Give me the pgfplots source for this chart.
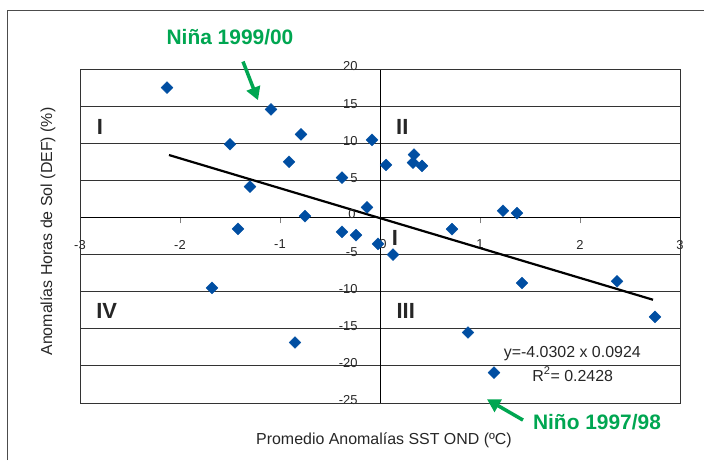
\documentclass[border=0pt]{standalone}
\usepackage{fontspec}
\setmainfont{Liberation Sans}
\usepackage{pgfplots}
\pgfplotsset{compat=1.18}
\usetikzlibrary{arrows.meta}
\definecolor{ptblue}{RGB}{0,78,162}
\definecolor{ngreen}{RGB}{0,166,81}

\begin{document}
\begin{tikzpicture}
\begin{axis}[
  scale only axis, width=600bp, height=334bp,
  xmin=-3, xmax=3, ymin=-25, ymax=20,
  axis lines=middle, axis line style={-, black, line width=0.9pt},
  xtick={-3,-2,...,3}, ytick={-25,-20,...,20},
  xtick align=outside, major tick length=6bp,
  ytick style={draw=none},
  ymajorgrids, grid style={black!80, line width=0.8pt},
  tick label style={font=\fontsize{13}{15}\selectfont, text=black!85},
  /pgf/number format/assume math mode=true,
  xticklabel style={yshift=-13bp},
  yticklabel style={xshift=-16bp, yshift=2.5bp},
  clip=false,
]
\coordinate (bl) at (rel axis cs:0,0);
\coordinate (tr) at (rel axis cs:1,1);
\draw[black!80, line width=1pt] (rel axis cs:0,0) rectangle (rel axis cs:1,1);

% sunshine anomaly vs SST anomaly
\addplot[only marks, mark=square*, mark size=4.2bp,
  mark options={rotate=45, fill=ptblue, draw=ptblue}] coordinates {
 (-2.13,17.5) (-1.09,14.55) (-1.50,9.86) (-0.79,11.2) (-0.91,7.5)
 (-1.30,4.15) (-0.75,0.18) (-0.38,5.36) (-0.08,10.45) (0.06,7.07)
 (-0.13,1.35) (-1.42,-1.55) (0.34,8.47) (0.33,7.39) (0.42,6.94)
 (1.23,0.9) (1.37,0.58) (0.72,-1.58) (-0.38,-1.94) (-0.24,-2.39)
 (-0.02,-3.56) (0.13,-5.0) (-1.68,-9.5) (-0.85,-16.85) (1.42,-8.83)
 (2.37,-8.6) (2.75,-13.4) (0.88,-15.5) (1.14,-20.9)};

% linear fit
\addplot[black, line width=2.2bp] coordinates {(-2.11,8.41) (2.73,-11.09)};

% origin tick labels
\node[font=\fontsize{13}{15}\selectfont, text=black!85] at (axis cs:-0.28,0.45) {0};
\node[font=\fontsize{13}{15}\selectfont, text=black!85] at (axis cs:0.03,-3.6) {0};

\node[font=\fontsize{22}{24}\selectfont\bfseries, text=black!85] at (axis cs:-2.80,12.2) {I};
\node[font=\fontsize{22}{24}\selectfont\bfseries, text=black!85] at (axis cs:0.223,12.2) {II};
\node[font=\fontsize{22}{24}\selectfont\bfseries, text=black!85] at (axis cs:0.15,-2.75) {I};
\node[font=\fontsize{22}{24}\selectfont\bfseries, text=black!85] at (axis cs:0.257,-12.66) {III};
\node[font=\fontsize{22}{24}\selectfont\bfseries, text=black!85] at (axis cs:-2.733,-12.66) {IV};

\node[font=\fontsize{16}{18}\selectfont, text=black!85] at (axis cs:1.923,-18.4) {y=-4.0302 x 0.0924};
\node[font=\fontsize{16}{18}\selectfont, text=black!85] at (axis cs:1.927,-21.1) {R\textsuperscript{2}= 0.2428};

\node[font=\fontsize{21}{23}\selectfont\bfseries, text=ngreen] at (axis cs:-1.5,24.3) {Niña 1999/00};
\draw[ngreen, line width=3.5bp, -{Triangle[length=13bp,width=14bp]}] (axis cs:-1.37,21.0) -- (axis cs:-1.22,15.8);
\node[font=\fontsize{21}{23}\selectfont\bfseries, text=ngreen] at (axis cs:2.17,-27.6) {Niño 1997/98};
\draw[ngreen, line width=3.5bp, -{Triangle[length=13bp,width=14bp]}] (axis cs:1.43,-27.3) -- (axis cs:1.07,-24.5);

\node[font=\fontsize{16}{18}\selectfont, text=black!85] at (axis cs:0.04,-30) {Promedio Anomalías SST OND (ºC)};
\node[font=\fontsize{16}{18}\selectfont, text=black!85, rotate=90] at (axis cs:-3.32,-1.9) {Anomalías Horas de Sol (DEF) (\%)};
\end{axis}
\draw[black!70, line width=0.8pt] ([shift={(-73bp,-57bp)}]bl) -- ([shift={(-73bp,59bp)}]bl |- tr) -- ([shift={(24bp,59bp)}]tr);
\pgfresetboundingbox
\path[use as bounding box] ([shift={(-80bp,-57bp)}]bl) rectangle ([shift={(24bp,69bp)}]tr);
\end{tikzpicture}
\end{document}
